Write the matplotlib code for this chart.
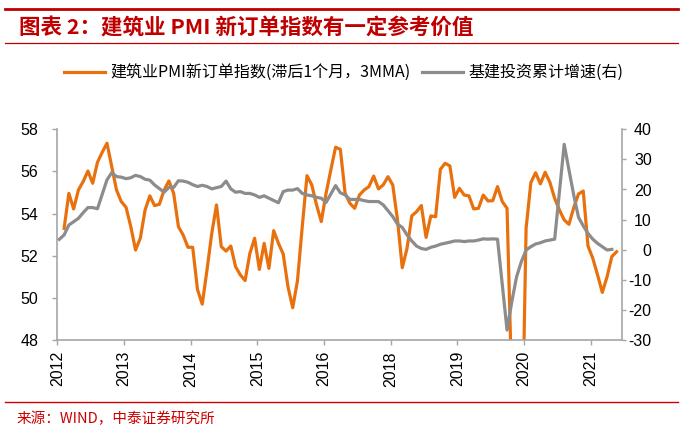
import numpy as np
import pandas as pd
import matplotlib
matplotlib.use('Agg')
import matplotlib.pyplot as plt
from matplotlib.lines import Line2D

plt.rcParams['font.family'] = ['Noto Sans CJK SC', 'DejaVu Sans']

# ---------------- data ----------------
months = pd.date_range('2012-04-01', periods=118, freq='MS')

# 建筑业PMI新订单指数 (滞后1个月, 3MMA) -- left axis
pmi_new_orders = [
    np.nan, 53.30, 54.96, 54.22, 55.12, 55.52, 56.02, 55.44, 56.43, 56.91,
    57.34, 56.23, 55.12, 54.57, 54.30, 53.38, 52.27, 52.83, 54.17, 54.84,
    54.38, 54.44, 55.12, 55.55, 54.96, 53.38, 52.98, 52.40, 52.40, 50.40,
    49.70, 51.32, 53.06, 54.41, 52.43, 52.22, 52.46, 51.48, 51.09, 50.82,
    52.11, 52.83, 51.35, 52.59, 51.40, 53.19, 52.59, 52.08, 50.53, 49.53,
    50.82, 53.38, 55.80, 55.36, 54.41, 53.62, 54.96, 56.07, 57.15, 57.05,
    54.96, 54.49, 54.25, 54.88, 55.12, 55.28, 55.78, 55.17, 55.36, 55.75,
    55.36, 53.70, 51.43, 52.35, 53.89, 54.09, 54.38, 52.87, 53.89, 53.85,
    56.10, 56.39, 56.26, 54.77, 55.20, 54.88, 54.84, 54.22, 54.25, 54.88,
    54.60, 54.61, 55.28, 54.57, 54.25, 45.70, 43.00, 41.00, 53.30, 55.47,
    55.94, 55.41, 55.96, 55.48, 54.72, 54.17, 53.70, 53.49, 54.28, 54.93,
    55.07, 52.46, 51.88, 51.09, 50.26, 51.00, 51.96, 52.19,
]

# 基建投资累计增速 (%) -- right axis (no January figures)
infra_growth = [
    3.45, 4.9, 8.2, 9.3, 10.4, 12.3, 14.0, 14.0, 13.6, np.nan,
    23.2, 25.6, 24.3, 24.1, 23.6, 23.9, 24.7, 24.3, 23.4, 23.1,
    21.5, np.nan, 19.1, 20.7, 20.7, 22.9, 22.8, 22.4, 21.6, 21.0,
    21.4, 21.0, 20.2, np.nan, 21.0, 22.8, 20.2, 19.1, 19.3, 18.7,
    18.7, 18.2, 17.4, 17.9, 17.1, np.nan, 15.6, 19.3, 19.8, 19.8,
    20.3, 18.7, 18.2, 17.9, 17.4, 17.1, 15.7, np.nan, 21.3, 18.9,
    18.2, 16.7, 16.7, 16.7, 16.3, 16.0, 16.0, 16.0, 14.9, np.nan,
    11.0, 8.5, 7.4, 4.9, 2.9, 1.2, 0.4, 0.1, 0.8, 1.2,
    1.8, np.nan, 2.5, 2.9, 2.9, 2.7, 2.9, 2.9, 3.2, 3.6,
    3.5, 3.6, 3.5, np.nan, -26.7, -17.3, -9.0, -4.0, -0.1, 1.0,
    1.9, 2.3, 2.9, 3.2, 3.5, np.nan, 35.0, 26.5, 18.2, 10.8,
    7.9, 5.4, 3.5, 2.1, 1.0, -0.1, 0.1,
]

tick_labels = ['2012', '2013', '2014', '2015', '2016', '2018', '2019', '2020', '2021']
left_ticks = [48, 50, 52, 54, 56, 58]
right_ticks = [-30, -20, -10, 0, 10, 20, 30, 40]

title = '图表 2：建筑业 PMI 新订单指数有一定参考价值'
source = '来源：WIND，中泰证券研究所'
name_pmi = '建筑业PMI新订单指数(滞后1个月，3MMA)'
name_infra = '基建投资累计增速(右)'

# ---------------- style ----------------
RED = '#C00000'
ORANGE = '#E8710E'
GRAY = '#8C8C8C'
SPINE = '#A6A6A6'
TICKFONT = 'Liberation Sans'
FS_TICK = 11.5

W, H = 688, 436
fig = plt.figure(figsize=(W / 100, H / 100), dpi=100)

left_px, right_px, top_px, bottom_px = 57.3, 622.3, 129.3, 340.0
ax1 = fig.add_axes([left_px / W, 1 - bottom_px / H,
                    (right_px - left_px) / W, (bottom_px - top_px) / H])
ax2 = ax1.twinx()

x = np.arange(len(months))
y1 = np.array(pmi_new_orders, dtype=float)
y2 = np.array(infra_growth, dtype=float)
xg = np.arange(len(y2))
m2 = ~np.isnan(y2)

ax1.plot(x, y1, color=ORANGE, lw=2.3, solid_joinstyle='round')
ax2.plot(xg[m2], y2[m2], color=GRAY, lw=2.3, solid_joinstyle='round')

ax1.set_ylim(48, 58)
ax2.set_ylim(-30, 40)
ax1.set_xlim(-0.43, 118.2)

tick_pos = -0.43 + 14 * np.arange(len(tick_labels))
ax1.set_xticks(tick_pos)
ax1.set_xticklabels(tick_labels, rotation=90, fontfamily=TICKFONT, fontsize=FS_TICK)
ax1.set_yticks(left_ticks)
ax1.set_yticklabels([str(v) for v in left_ticks], fontfamily=TICKFONT, fontsize=FS_TICK)
ax2.set_yticks(right_ticks)
ax2.set_yticklabels([str(v) for v in right_ticks], fontfamily=TICKFONT,
                    fontsize=FS_TICK, ha='right')

ax1.tick_params(axis='x', direction='out', length=3.5, width=1, color=SPINE, pad=4.5)
ax1.tick_params(axis='y', direction='out', length=3.4, width=1, color=SPINE, pad=10.4)
ax2.tick_params(axis='y', direction='out', length=2.6, width=1, color=SPINE, pad=18.6)

for ax in (ax1, ax2):
    for s in ax.spines.values():
        s.set_visible(False)
ax1.spines['left'].set_visible(True)
ax1.spines['bottom'].set_visible(True)
ax2.spines['right'].set_visible(True)
for s in (ax1.spines['left'], ax1.spines['bottom'], ax2.spines['right']):
    s.set_color(SPINE)
    s.set_linewidth(1.2)

# legend
handles = [Line2D([], [], color=ORANGE, lw=2.3), Line2D([], [], color=GRAY, lw=2.3)]
fig.legend(handles, [name_pmi, name_infra], loc='center',
           bbox_to_anchor=(0.5, 1 - 72.7 / H), ncol=2, frameon=False,
           fontsize=11.5, handlelength=2.55, handletextpad=0.35,
           columnspacing=0.7, borderpad=0, borderaxespad=0)

# header / footer decorations
fig.add_artist(Line2D([5 / W, 678 / W], [1 - 9.3 / H] * 2, color=RED, lw=2.0))
fig.add_artist(Line2D([5 / W, 678 / W], [1 - 43.3 / H] * 2, color=RED, lw=0.9))
fig.add_artist(Line2D([5 / W, 678 / W], [1 - 402.3 / H] * 2, color='#D00000', lw=1.0))

fig.text(19 / W, 1 - 28.5 / H, title, fontsize=15.5, fontweight='bold',
         color=RED, ha='left', va='center')
fig.text(17 / W, 1 - 419 / H, source, fontsize=10.5, color='#CC0000',
         ha='left', va='center')

fig.savefig('out.png', dpi=100)
